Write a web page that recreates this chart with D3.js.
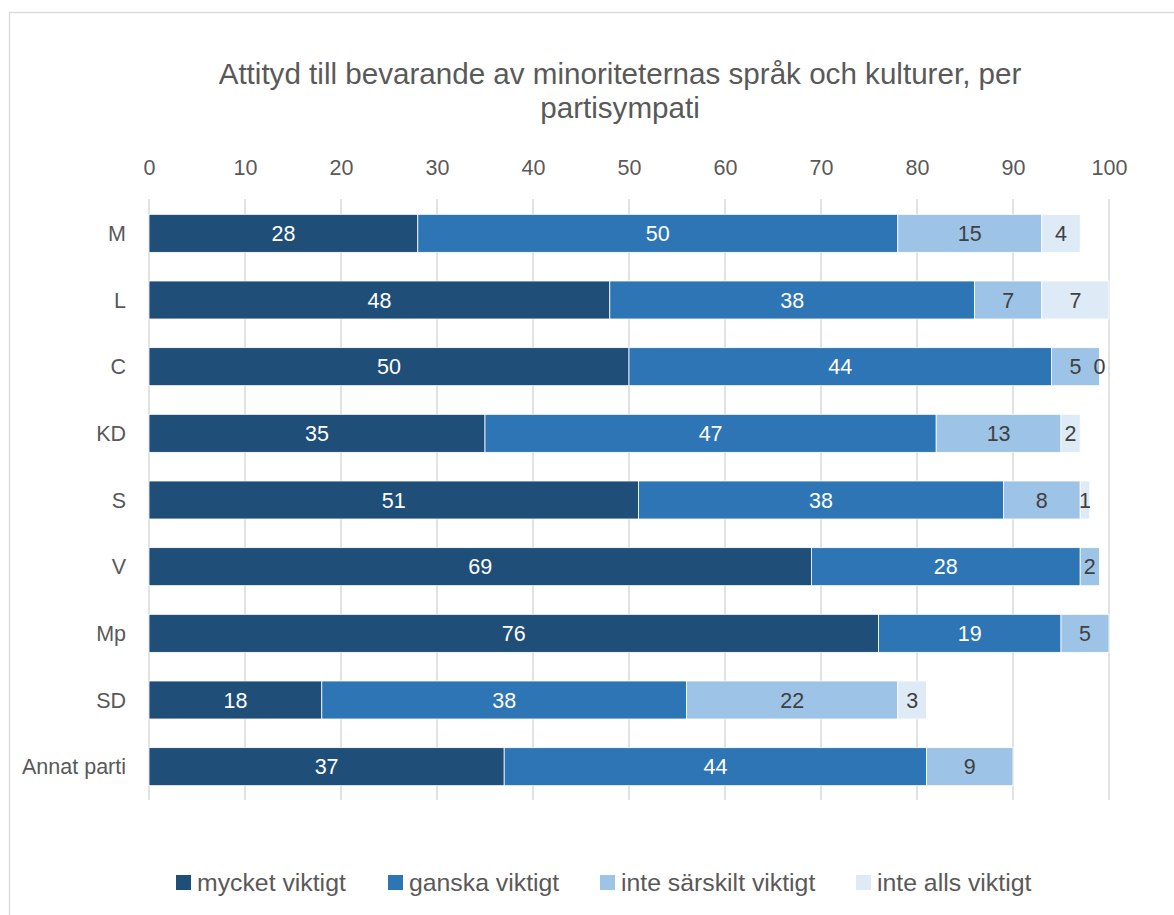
<!DOCTYPE html>
<html><head><meta charset="utf-8">
<script src="https://cdn.jsdelivr.net/npm/d3@7"></script>
<style>body{margin:0;background:#fff}svg{display:block}text{font-family:"Liberation Sans","DejaVu Sans",sans-serif}</style>
</head><body><svg id="c" width="1174" height="915"></svg>
<script>
const categories = ["M","L","C","KD","S","V","Mp","SD","Annat parti"];
const seriesNames = ["mycket viktigt","ganska viktigt","inte särskilt viktigt","inte alls viktigt"];
const mycket = [28,48,50,35,51,69,76,18,37];
const ganska = [50,38,44,47,38,28,19,38,44];
const inteSarskilt = [15,7,5,13,8,2,5,22,9];
const inteAlls = [4,7,0,2,1,null,null,3,null];
const tickValues = [0,10,20,30,40,50,60,70,80,90,100];
const colors = ["#1F4E79","#2E75B6","#9DC3E6","#DEEBF7"];
const labelColors = ["#ffffff","#ffffff","#404040","#404040"];
const titleLines = ["Attityd till bevarande av minoriteternas språk och kulturer, per","partisympati"];

const series = [mycket, ganska, inteSarskilt, inteAlls];
const svg = d3.select("#c");
const x = d3.scaleLinear().domain([0,100]).range([149,1109]);
const y = d3.scaleBand().domain(categories).range([200,800]).paddingInner(0.43).paddingOuter(0.215);

// border
svg.append("rect").attr("x",9.5).attr("y",12.5).attr("width",1240).attr("height",920)
  .attr("fill","none").attr("stroke","#D9D9D9").attr("stroke-width",1.3);

// title
svg.append("text").attr("x",620).attr("y",84).attr("text-anchor","middle")
  .attr("font-size",29.6).attr("fill","#595959")
  .selectAll("tspan").data(titleLines).join("tspan")
  .attr("x",620).attr("dy",(d,i)=>i?34:0).text(d=>d);

// gridlines
svg.append("g").selectAll("line").data(tickValues).join("line")
  .attr("x1",d=>x(d)).attr("x2",d=>x(d)).attr("y1",199).attr("y2",800)
  .attr("stroke","#D9D9D9").attr("stroke-width",1.5);

// top axis labels
const ax = svg.append("g").attr("transform","translate(0,199)")
  .call(d3.axisTop(x).tickValues(tickValues).tickSize(0).tickPadding(24));
ax.select(".domain").remove();
ax.selectAll("text").attr("font-size",21.5).attr("fill","#595959")
  .style("font-family","'Liberation Sans',sans-serif");

// category labels
svg.append("g").selectAll("text").data(categories).join("text")
  .attr("x",126).attr("y",d=>y(d)+y.bandwidth()/2).attr("dy","0.35em")
  .attr("text-anchor","end").attr("font-size",21.5).attr("fill","#595959").text(d=>d);

// stacked segments
const segs = [];
categories.forEach((c,i)=>{
  let acc=0;
  series.forEach((s,k)=>{
    const v=s[i];
    if(v===null) return;
    segs.push({c,k,v,x0:acc,x1:acc+v});
    acc+=v;
  });
});
svg.append("g").selectAll("rect").data(segs).join("rect")
  .attr("x",d=>x(d.x0)).attr("y",d=>y(d.c))
  .attr("width",d=>x(d.x1)-x(d.x0)).attr("height",y.bandwidth())
  .attr("fill",d=>colors[d.k]).attr("stroke","#ffffff").attr("stroke-width",0.8)
  .attr("stroke-opacity",d=>d.v===0?0:1);
svg.append("g").selectAll("text").data(segs).join("text")
  .attr("x",d=>x((d.x0+d.x1)/2)).attr("y",d=>y(d.c)+y.bandwidth()/2).attr("dy","0.35em")
  .attr("text-anchor","middle").attr("font-size",21.5).attr("fill",d=>labelColors[d.k])
  .text(d=>d.v);

// legend
const legX = [176,388,600,856];
const lg = svg.append("g").selectAll("g").data(seriesNames).join("g")
  .attr("transform",(d,i)=>`translate(${legX[i]},875)`);
lg.append("rect").attr("width",15).attr("height",15).attr("fill",(d,i)=>colors[i]);
lg.append("text").attr("x",21).attr("y",7.5).attr("dy","0.35em").attr("font-size",24.8)
  .attr("fill","#595959").text(d=>d);
</script></body></html>
